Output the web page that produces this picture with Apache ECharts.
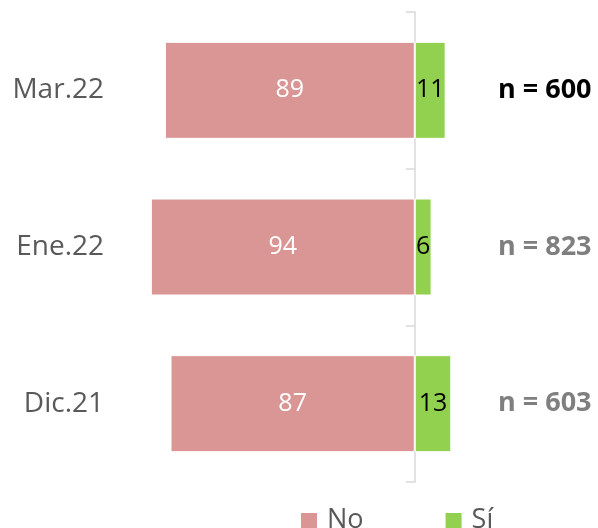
<!DOCTYPE html>
<html>
<head>
<meta charset="utf-8">
<script src="https://cdn.jsdelivr.net/npm/echarts@6/dist/echarts.min.js"></script>
<style>
  html, body { margin: 0; padding: 0; background: #fff; }
  #chart { width: 598px; height: 528px; }
</style>
</head>
<body>
<div id="chart"></div>
<script>
// data, top row first
const categories = ['Mar.22', 'Ene.22', 'Dic.21'];
const noValues = [89, 94, 87];
const siValues = [11, 6, 13];
const sampleLabels = ['n = 600', 'n = 823', 'n = 603'];
const sampleHighlight = [true, false, false];

const font = 'Open Sans';

const chart = echarts.init(document.getElementById('chart'));

chart.setOption({
    animation: false,
    textStyle: { fontFamily: font },
    legend: {
        data: ['No', 'Sí'],
        left: 294,
        top: 502,
        itemWidth: 18,
        itemHeight: 17,
        itemGap: 80,
        icon: 'rect',
        textStyle: {
            fontSize: 27,
            color: '#595959',
            fontFamily: font,
            padding: [0, 0, 0, 4]
        }
    },
    grid: {
        left: 134,
        right: 99,
        top: 12,
        bottom: 46
    },
    xAxis: {
        type: 'value',
        min: -100,
        max: 30,
        show: false,
        splitLine: { show: false }
    },
    yAxis: [
        {
            // centre line with ticks
            type: 'category',
            data: categories,
            inverse: true,
            axisLine: {
                onZero: true,
                lineStyle: { color: '#d9d9d9', width: 1.5 }
            },
            axisTick: {
                show: true,
                length: 9,
                lineStyle: { color: '#d9d9d9', width: 1.5 }
            },
            axisLabel: { show: false }
        },
        {
            // category names
            type: 'category',
            data: categories,
            inverse: true,
            position: 'left',
            axisLine: { show: false, onZero: false },
            axisTick: { show: false },
            axisLabel: {
                margin: 30,
                fontSize: 28,
                color: '#595959',
                fontFamily: font
            }
        },
        {
            // sample sizes
            type: 'category',
            data: sampleLabels,
            inverse: true,
            position: 'right',
            axisLine: { show: false, onZero: false },
            axisTick: { show: false },
            axisLabel: {
                margin: -1,
                formatter: function (value, idx) {
                    return sampleHighlight[idx] ? '{hi|' + value + '}' : '{lo|' + value + '}';
                },
                rich: {
                    hi: { fontSize: 27, fontWeight: 'bold', color: '#000', fontFamily: font },
                    lo: { fontSize: 27, fontWeight: 'bold', color: '#7f7f7f', fontFamily: font }
                }
            }
        }
    ],
    series: [
        {
            name: 'No',
            type: 'bar',
            yAxisIndex: 0,
            barWidth: 97,
            barGap: '-100%',
            data: noValues.map(v => -v),
            itemStyle: { color: '#d99694', borderColor: '#fff', borderWidth: 1 },
            label: {
                show: true,
                position: 'inside',
                color: '#fff',
                fontSize: 25,
                fontFamily: font,
                formatter: p => Math.abs(p.value)
            }
        },
        {
            name: 'Sí',
            type: 'bar',
            yAxisIndex: 0,
            barWidth: 97,
            barGap: '-100%',
            data: siValues,
            itemStyle: { color: '#92d050', borderColor: '#fff', borderWidth: 1 },
            label: {
                show: true,
                position: 'inside',
                color: '#000',
                fontSize: 25,
                fontFamily: font
            }
        }
    ]
});
</script>
</body>
</html>
